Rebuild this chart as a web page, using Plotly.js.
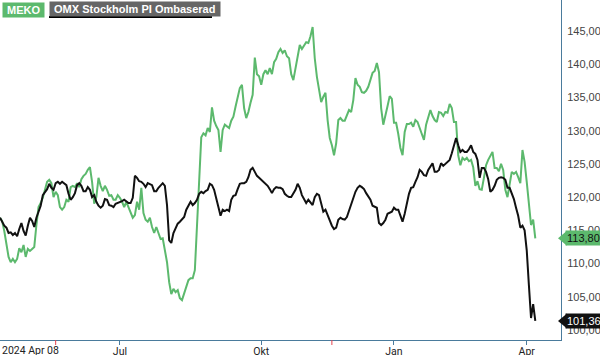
<!DOCTYPE html>
<html><head><meta charset="utf-8">
<script src="https://cdn.plot.ly/plotly-3.0.1.min.js"></script>
<style>html,body{margin:0;padding:0;background:#fff}#chart{width:600px;height:355px}</style>
</head><body><div id="chart"></div>
<script>
// ---- data ----
const seriesNames = ['MEKO', 'OMX Stockholm PI Ombaserad'];
const startDate = '2024-04-08';
const holidays = ['2024-05-01','2024-05-09','2024-06-06','2024-06-21','2024-12-24','2024-12-25',
  '2024-12-26','2024-12-31','2025-01-01','2025-01-06','2025-04-18','2025-04-21'];
const omxValues = [
 116.9,116.3,115.7,115.4,114.6,114.7,114.3,114.6,114.1,115.2,
 116.1,114.9,114.2,115.7,116.9,116.4,115.5,116.9,118.0,118.7,
 120.3,120.8,121.2,122.0,121.4,121.1,122.1,122.3,122.0,122.3,
 122.1,121.8,120.5,119.6,120.0,120.6,121.8,122.1,121.7,120.9,
 120.9,121.5,121.1,120.0,120.3,119.3,118.7,118.4,118.7,119.7,
 119.6,118.8,118.7,118.5,119.0,119.1,119.3,119.4,119.6,119.3,
 119.1,119.1,119.9,123.2,122.9,122.4,122.3,122.0,121.5,122.1,
 122.0,121.8,120.9,120.9,121.4,121.7,122.1,121.7,118.8,113.5,
 113.1,114.6,115.4,116.0,116.3,116.6,117.0,118.1,118.8,119.3,
 118.8,119.1,119.6,120.5,120.8,120.6,120.9,121.1,122.0,121.8,
 121.1,120.0,118.5,117.2,118.1,117.9,118.1,117.9,119.6,120.2,
 120.3,121.2,122.0,122.1,122.1,122.3,123.0,124.1,124.4,123.8,
 123.2,122.9,122.6,122.4,122.1,121.7,121.2,120.6,121.2,121.5,
 121.4,121.4,121.2,120.5,120.2,120.0,120.0,120.5,121.1,122.0,
 121.4,120.3,119.7,119.1,119.6,119.1,118.8,120.0,120.5,120.3,
 119.0,117.8,118.1,117.2,116.3,115.7,115.2,115.4,116.6,116.9,
 116.7,116.6,117.0,117.9,119.0,120.0,120.8,121.4,121.7,121.5,
 121.2,120.6,120.0,119.6,118.7,118.5,118.4,116.1,115.8,116.1,
 116.6,117.5,117.6,117.8,118.4,118.1,118.1,117.2,116.3,117.5,
 119.1,120.5,121.4,121.5,122.3,123.0,124.1,123.8,123.3,123.2,
 124.1,124.7,125.1,123.8,123.8,124.1,125.1,124.7,125.0,125.3,
 125.6,126.6,127.7,128.9,127.8,126.8,127.1,126.8,126.8,127.2,
 127.8,126.8,126.5,125.6,122.9,124.4,124.4,123.8,122.7,120.8,
 121.1,121.7,122.6,122.9,123.0,122.9,122.6,121.4,121.4,120.6,
 119.7,118.4,117.2,115.4,115.7,115.0,112.0,106.8,101.8,103.9,101.36];
const mekoValues = [
 116.9,116.4,114.9,112.8,111.0,110.2,110.7,110.2,110.7,112.3,
 111.7,112.8,111.0,112.2,111.9,112.2,112.5,115.8,118.5,119.1,
 119.9,121.1,122.3,122.6,122.1,120.0,120.8,120.3,118.5,118.1,
 118.5,119.6,119.3,121.5,121.7,121.5,122.1,121.5,122.7,123.2,
 123.5,124.1,124.5,122.3,119.0,120.0,122.9,121.7,120.9,121.7,
 121.1,120.2,120.3,119.6,119.6,120.3,119.9,119.3,118.5,119.3,
 118.5,117.5,116.9,117.3,119.3,118.1,121.4,117.6,116.6,116.3,
 116.9,115.5,114.6,115.5,114.6,113.7,113.8,112.2,110.2,107.2,
 105.4,106.2,105.7,106.0,104.8,104.5,105.6,106.3,107.5,107.8,
 107.8,109.0,115.8,123.8,129.0,129.6,129.3,130.4,129.8,133.5,
 131.5,130.7,130.1,126.8,130.1,130.9,130.7,130.4,131.5,132.1,
 133.6,134.9,136.4,136.9,133.4,131.9,132.8,134.2,135.4,141.0,
 138.5,138.2,136.9,138.5,139.1,138.5,139.4,138.5,140.3,140.8,
 141.8,142.3,141.7,142.1,141.2,140.9,138.5,137.6,139.4,140.6,
 142.9,142.3,142.9,143.3,143.2,144.2,145.6,140.9,138.1,136.4,
 134.3,135.1,135.7,131.6,128.9,127.8,126.3,128.1,131.6,131.9,
 131.5,131.5,132.4,133.1,132.8,134.6,137.9,136.9,136.6,135.8,
 135.7,136.0,136.6,137.8,138.7,139.0,140.2,138.8,133.4,130.9,
 132.1,133.7,135.2,134.8,131.2,131.2,129.5,127.4,126.3,129.8,
 131.0,131.0,131.2,130.6,131.6,131.3,130.4,129.5,128.6,130.9,
 132.2,133.1,132.2,131.6,131.3,132.8,132.7,132.2,132.8,132.7,
 134.0,133.4,131.3,131.3,126.3,124.8,125.9,125.6,125.9,125.4,
 125.6,124.5,121.7,122.4,121.2,121.1,122.9,124.8,125.6,126.3,
 126.8,124.4,124.4,123.9,125.0,124.1,121.1,120.0,122.3,123.8,
 123.5,123.8,123.0,122.1,127.1,125.3,122.3,118.5,115.8,116.6,113.80];
const tickDates = ['2024-07-01','2024-10-01','2025-01-02','2025-04-01'];
const tickLabels = ['Jul','Okt','Jan','Apr'];
const firstLabel = '2024 Apr 08';
const eventDates = ['2024-05-16','2024-11-15'];
const yTicks = [100,105,110,115,120,125,130,135,140,145];

// ---- trading calendar ----
function tradingDays(start, n) {
  const out = [];
  const d = new Date(start + 'T00:00:00Z');
  while (out.length < n) {
    const s = d.toISOString().slice(0,10);
    const wd = d.getUTCDay();
    if (wd !== 0 && wd !== 6 && holidays.indexOf(s) < 0) out.push(s);
    d.setUTCDate(d.getUTCDate() + 1);
  }
  return out;
}
const days = tradingDays(startDate, omxValues.length);

const GREEN = '#5cb96d', BLACK = '#111111', AXIS = '#4a7b9c';
const fmt = v => v.toFixed(2).replace('.', ',');
const lastMeko = mekoValues[mekoValues.length-1];
const lastOmx = omxValues[omxValues.length-1];

const traces = [
  {x: days, y: mekoValues, name: seriesNames[0], type:'scatter', mode:'lines',
   line:{color:GREEN, width:2}},
  {x: days, y: omxValues, name: seriesNames[1], type:'scatter', mode:'lines',
   line:{color:BLACK, width:2}}
];

const shapes = eventDates.map(d => ({type:'line', xref:'x', yref:'paper', x0:d, x1:d,
  ysizemode:'pixel', yanchor:0, y0:0, y1:-5, line:{color:'#e5424d', width:1}}));
[[lastMeko, GREEN],[lastOmx, BLACK]].forEach(([v,c]) => shapes.push({
  type:'path', xref:'paper', yref:'y', xsizemode:'pixel', ysizemode:'pixel',
  xanchor:1, yanchor:v, path:'M -3 0 L 6 7.5 L 6 -7.5 Z', fillcolor:c, line:{width:0}}));
shapes.push({type:'line', xref:'paper', yref:'paper', xsizemode:'pixel', xanchor:0, x0:49, x1:212,
  ysizemode:'pixel', yanchor:1, y0:-17, y1:-17, line:{color:'#000', width:2}});

const annotations = [
  {xref:'paper', yref:'paper', x:0, y:1, xanchor:'left', yanchor:'top', xshift:2, yshift:-2,
   text:'<b>&nbsp;'+seriesNames[0]+'&nbsp;</b>', showarrow:false, bgcolor:GREEN, borderpad:1,
   font:{family:'Liberation Sans, Arial, sans-serif', size:11, color:'#fff'}},
  {xref:'paper', yref:'paper', x:0, y:1, xanchor:'left', yanchor:'top', xshift:49, yshift:-1,
   text:'<b>&nbsp;'+seriesNames[1]+'&nbsp;</b>', showarrow:false, bgcolor:'#666666', borderpad:1,
   font:{family:'Liberation Sans, Arial, sans-serif', size:11, color:'#fff'}},
  {xref:'paper', yref:'y', x:1, y:lastMeko, xanchor:'left', yanchor:'middle', xshift:4,
   text:fmt(lastMeko), showarrow:false, bgcolor:GREEN, borderpad:1,
   font:{family:'Liberation Sans, Arial, sans-serif', size:11, color:'#111'}},
  {xref:'paper', yref:'y', x:1, y:lastOmx, xanchor:'left', yanchor:'middle', xshift:4,
   text:fmt(lastOmx), showarrow:false, bgcolor:BLACK, borderpad:1,
   font:{family:'Liberation Sans, Arial, sans-serif', size:11, color:'#fff'}},
  {xref:'paper', yref:'paper', x:0, y:0, xanchor:'left', yanchor:'top', yshift:-2,
   text:firstLabel, showarrow:false,
   font:{family:'Roboto, sans-serif', size:10.5, color:'#222'}}
];

const layout = {
  width:600, height:355, margin:{l:0, r:39, t:0, b:15},
  paper_bgcolor:'#fff', plot_bgcolor:'#fff', showlegend:false, separators:', ',
  xaxis:{type:'category', range:[0, 262], showgrid:false, zeroline:false,
    showline:true, linecolor:AXIS, linewidth:1, ticks:'outside', ticklen:4, tickcolor:AXIS,
    tickvals:tickDates, ticktext:tickLabels, ticklabelstandoff:-3,
    tickfont:{family:'Roboto, sans-serif', size:10.5, color:'#222'}},
  yaxis:{side:'right', range:[98.495, 149.666], showgrid:false, zeroline:false,
    showline:true, linecolor:AXIS, linewidth:1, ticks:'outside', ticklen:3,
    tickcolor:'rgba(0,0,0,0)', tickvals:yTicks, tickformat:'.2f',
    tickfont:{family:'Liberation Sans, Arial, sans-serif', size:11, color:'#444'}},
  shapes:shapes, annotations:annotations
};
Plotly.newPlot('chart', traces, layout, {staticPlot:true, displayModeBar:false});
</script></body></html>
